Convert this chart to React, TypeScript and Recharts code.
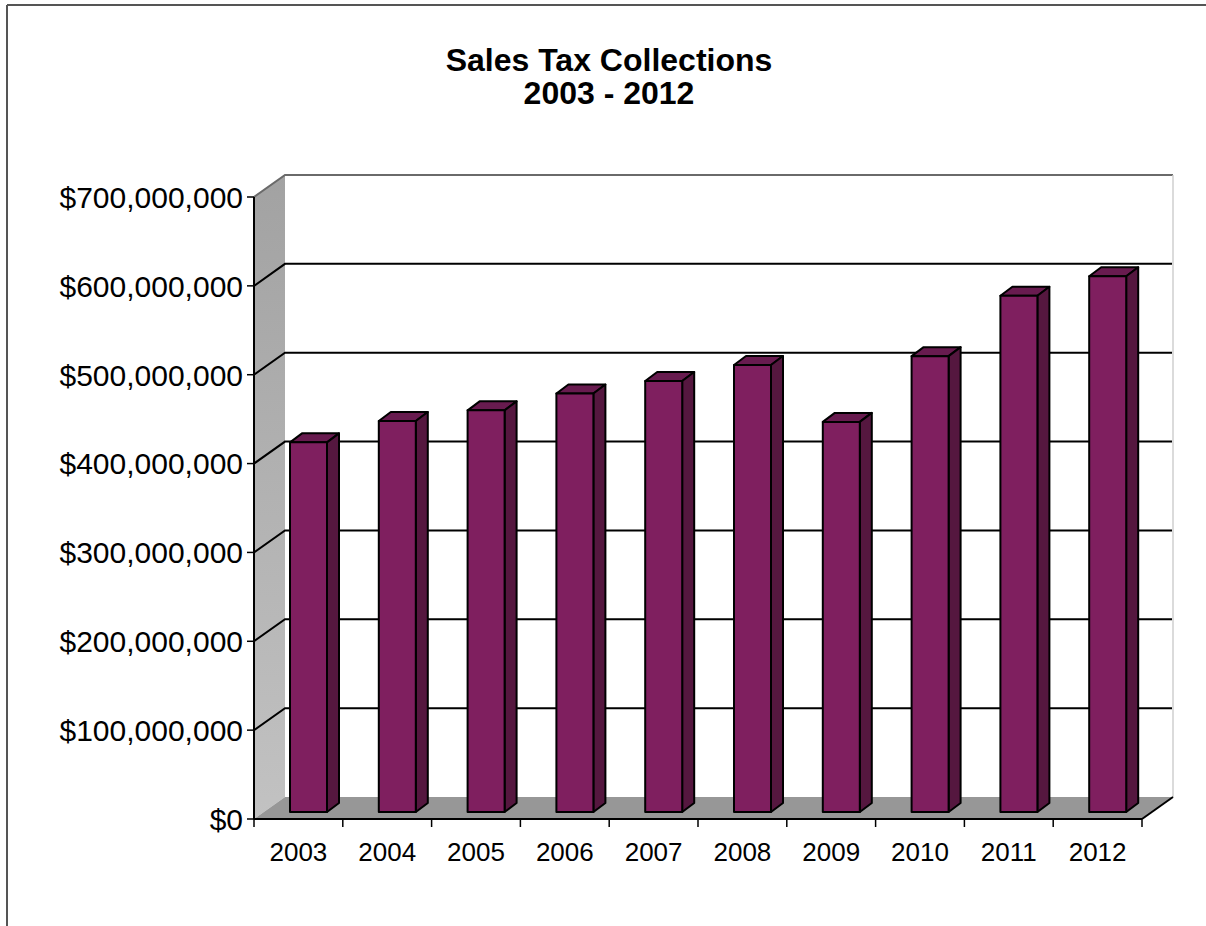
import React from 'react';
import { BarChart, Bar, XAxis, YAxis, CartesianGrid } from 'recharts';

const years = ['2003', '2004', '2005', '2006', '2007', '2008', '2009', '2010', '2011', '2012'];
const collections = [416e6, 440e6, 452e6, 471e6, 485e6, 503e6, 439e6, 513e6, 581e6, 603e6];
const yTicks = [0, 100e6, 200e6, 300e6, 400e6, 500e6, 600e6, 700e6];
const titleLines = ['Sales Tax Collections', '2003 - 2012'];

const data = years.map((year, i) => ({ year, value: collections[i] }));

const FONT = '"Liberation Sans", Arial, sans-serif';
const WALL_DX = 31;
const WALL_DY = -22;
const BAR_SHIFT_X = 10;
const BAR_SHIFT_Y = -7;
const BAR_DEPTH_X = 12;
const BAR_DEPTH_Y = -9;

const fmt = (v: number) => '$' + String(Math.round(v)).replace(/\B(?=(\d{3})+(?!\d))/g, ',');

function GridLine(props: any) {
  const { x, y, width, height, y1, index } = props;
  const bottom = y + height;
  const right = x + width;
  const parts: React.ReactNode[] = [];
  if (index === 0) {
    parts.push(
      <defs key="defs">
        <linearGradient id="leftWallGrad" x1="0" y1="0" x2="0" y2="1">
          <stop offset="0%" stopColor="#A2A2A2" />
          <stop offset="100%" stopColor="#C2C2C2" />
        </linearGradient>
      </defs>
    );
    parts.push(
      <rect key="back" x={x + WALL_DX} y={y + WALL_DY} width={width} height={height} fill="#FFFFFF" />
    );
    parts.push(
      <polygon
        key="lw"
        points={`${x},${y} ${x + WALL_DX},${y + WALL_DY} ${x + WALL_DX},${bottom + WALL_DY} ${x},${bottom}`}
        fill="url(#leftWallGrad)"
      />
    );
    parts.push(
      <polygon
        key="floor"
        points={`${x},${bottom} ${right},${bottom} ${right + WALL_DX},${bottom + WALL_DY} ${x + WALL_DX},${bottom + WALL_DY}`}
        fill="#979797"
      />
    );
    parts.push(
      <polyline
        key="topedge"
        points={`${x},${y} ${x + WALL_DX},${y + WALL_DY} ${right + WALL_DX},${y + WALL_DY}`}
        fill="none"
        stroke="#6A6A6A"
        strokeWidth={2}
      />
    );
    parts.push(
      <line
        key="rightedge"
        x1={right + WALL_DX}
        y1={y + WALL_DY}
        x2={right + WALL_DX}
        y2={bottom + WALL_DY}
        stroke="#CFCFCF"
        strokeWidth={1.5}
      />
    );
    parts.push(
      <line
        key="floorright"
        x1={right}
        y1={bottom}
        x2={right + WALL_DX}
        y2={bottom + WALL_DY}
        stroke="#000"
        strokeWidth={2}
      />
    );
  }
  if (Math.abs(y1 - y) > 1 && Math.abs(y1 - bottom) > 1) {
    parts.push(
      <polyline
        key="gl"
        points={`${x},${y1} ${x + WALL_DX},${y1 + WALL_DY} ${right + WALL_DX - 1},${y1 + WALL_DY}`}
        fill="none"
        stroke="#000"
        strokeWidth={2}
      />
    );
  }
  return <g key={`grid-${index}`}>{parts}</g>;
}

function Bar3D(props: any) {
  const { x, y, width, height } = props;
  if (x == null || y == null || !height) return null;
  const X = x + BAR_SHIFT_X;
  const Y = y + BAR_SHIFT_Y;
  const W = width;
  const H = height;
  const dx = BAR_DEPTH_X;
  const dy = BAR_DEPTH_Y;
  return (
    <g stroke="#000" strokeWidth={2} strokeLinejoin="round">
      <polygon points={`${X},${Y} ${X + dx},${Y + dy} ${X + W + dx},${Y + dy} ${X + W},${Y}`} fill="#681B4F" />
      <polygon points={`${X + W},${Y} ${X + W + dx},${Y + dy} ${X + W + dx},${Y + H + dy} ${X + W},${Y + H}`} fill="#55173F" />
      <rect x={X} y={Y} width={W} height={H} fill="#7F1F5F" />
    </g>
  );
}

function XTick(props: any) {
  const { x, y, payload, index, visibleTicksCount, width } = props;
  const count = visibleTicksCount || years.length;
  const band = (width || 888) / count;
  const left = x - band / 2;
  const right = x + band / 2;
  return (
    <g>
      <line x1={left} y1={y} x2={left} y2={y + 8} stroke="#000" strokeWidth={1.5} />
      {index === count - 1 && <line x1={right} y1={y} x2={right} y2={y + 8} stroke="#000" strokeWidth={1.5} />}
      <text x={x} y={y + 42} textAnchor="middle" fontFamily={FONT} fontSize={26} fill="#000">
        {payload.value}
      </text>
    </g>
  );
}

function YTick(props: any) {
  const { x, y, payload } = props;
  return (
    <text x={x} y={y} dy="0.36em" textAnchor="end" fontFamily={FONT} fontSize={30} fill="#000">
      {fmt(payload.value)}
    </text>
  );
}

export default function App() {
  return (
    <div style={{ position: 'absolute', left: 0, top: 0, width: 1206, height: 926, overflow: 'hidden', background: '#fff' }}>
      <div style={{ position: 'absolute', left: 0, top: 0 }}>
        <BarChart width={1206} height={926} data={data} margin={{ top: 197, right: 64, bottom: 67, left: 0 }}>
          <CartesianGrid vertical={false} horizontal={(p: any) => <GridLine {...p} />} />
          <XAxis
            dataKey="year"
            height={40}
            tickSize={0}
            tickMargin={0}
            tickLine={false}
            axisLine={{ stroke: '#000', strokeWidth: 2 }}
            tick={<XTick />}
            interval={0}
          />
          <YAxis
            width={254}
            domain={[0, 700e6]}
            ticks={yTicks}
            tickSize={7}
            tickMargin={4}
            tickLine={{ stroke: '#000', strokeWidth: 1.5 }}
            axisLine={{ stroke: '#000', strokeWidth: 2 }}
            tick={<YTick />}
            interval={0}
          />
          <Bar dataKey="value" barSize={37} shape={<Bar3D />} isAnimationActive={false} />
        </BarChart>
      </div>
      <svg width={1206} height={926} style={{ position: 'absolute', left: 0, top: 0, pointerEvents: 'none' }}>
        <rect x={1190} y={7} width={16} height={150} fill="#fff" />
        <line x1={7} y1={5} x2={1206} y2={5} stroke="#555" strokeWidth={2} />
        <line x1={7} y1={5} x2={7} y2={926} stroke="#555" strokeWidth={2} />
        <text x={609} y={71} textAnchor="middle" fontFamily={FONT} fontWeight="bold" fontSize={32} fill="#000">
          {titleLines[0]}
        </text>
        <text x={609} y={104} textAnchor="middle" fontFamily={FONT} fontWeight="bold" fontSize={32} fill="#000">
          {titleLines[1]}
        </text>
      </svg>
    </div>
  );
}
